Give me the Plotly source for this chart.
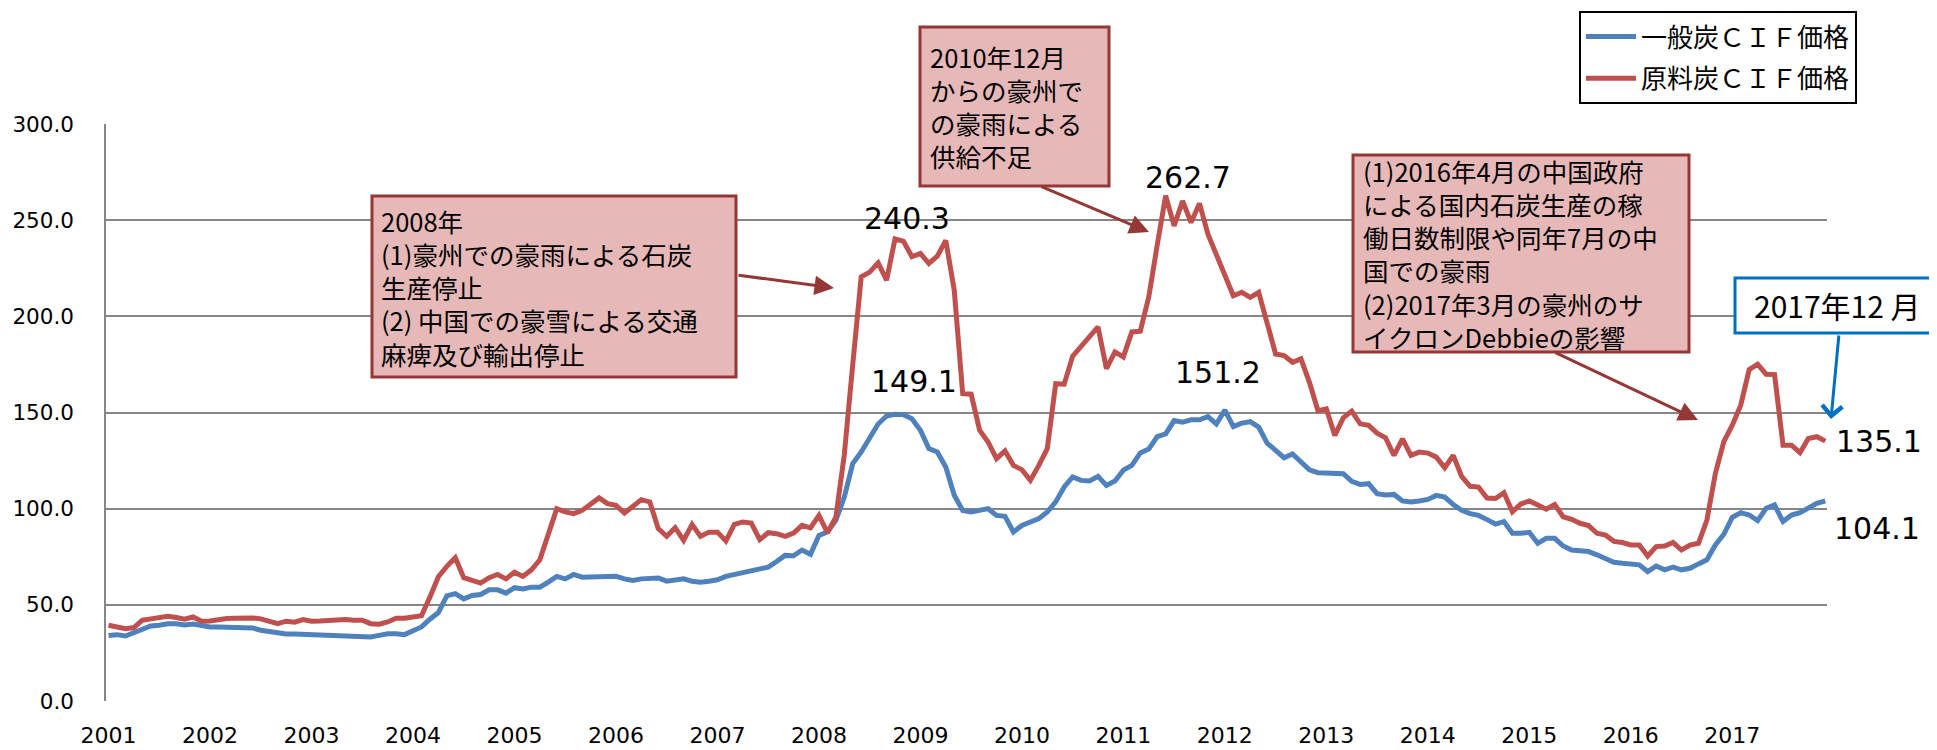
import plotly.graph_objects as go

# monthly CIF prices, 2001/01 .. 2017/12
months = [f"{y}/{m:02d}" for y in range(2001, 2018) for m in range(1, 13)]
year_ticks = [str(y) for y in range(2001, 2018)]

steam_coal = [
    34.1, 34.5, 33.8, 35.4, 37.0, 39.0, 39.4, 40.2, 40.2, 39.5, 40.0, 39.0,
    38.5, 38.5, 38.5, 38.5, 38.3, 38.0, 36.8, 36.0, 35.0, 34.8, 34.8, 34.6,
    34.8, 34.5, 34.0, 33.8, 34.1, 34.0, 33.3, 33.3, 34.1, 35.0, 35.0, 34.5,
    36.5, 38.5, 42.5, 46.0, 54.7, 55.8, 53.1, 54.9, 55.4, 57.8, 57.8, 56.1,
    58.9, 58.3, 59.2, 59.2, 61.8, 64.8, 63.5, 65.8, 64.4, 64.4, 64.8, 64.9,
    64.8, 63.5, 62.7, 63.5, 64.0, 64.0, 62.3, 62.7, 63.5, 62.3, 61.8, 62.3,
    63.0, 64.8, 65.8, 66.5, 67.4, 68.6, 69.6, 72.5, 75.7, 75.5, 78.5, 76.3,
    86.1, 87.9, 93.9, 106.0, 123.4, 129.5, 136.4, 144.0, 148.2, 149.1, 148.9, 146.8,
    140.8, 131.2, 129.5, 121.7, 107.0, 99.1, 98.3, 99.1, 100.0, 96.5, 96.0, 87.9,
    91.3, 93.1, 94.8, 98.3, 103.5, 111.3, 116.5, 114.7, 114.4, 116.8, 112.1, 114.4,
    120.0, 122.5, 129.0, 131.0, 137.5, 138.9, 145.8, 145.0, 146.2, 146.2, 147.9, 144.1,
    151.2, 142.7, 144.5, 145.2, 142.4, 134.1, 129.9, 126.5, 128.5, 124.2, 120.2, 118.7,
    118.5, 118.3, 118.2, 114.2, 112.6, 113.0, 107.8, 107.1, 107.4, 104.0, 103.5, 104.0,
    104.8, 106.9, 106.0, 102.2, 99.1, 97.4, 96.5, 94.3, 92.0, 93.3, 87.2, 87.2,
    87.7, 82.0, 84.6, 84.6, 80.6, 78.5, 78.0, 77.7, 76.0, 73.7, 72.1, 71.6,
    71.1, 70.8, 67.3, 70.2, 68.2, 69.6, 68.2, 69.0, 71.3, 73.4, 81.1, 86.7,
    95.5, 97.9, 96.7, 93.8, 100.2, 101.9, 93.3, 96.7, 97.9, 100.7, 102.8, 104.1,
]

coking_coal = [
    39.4, 38.5, 37.6, 38.2, 42.0, 42.7, 43.2, 44.0, 43.4, 42.5, 43.7, 41.5,
    41.6, 42.3, 42.9, 43.0, 43.2, 43.2, 42.7, 41.6, 40.2, 41.5, 41.0, 42.3,
    41.5, 41.6, 42.0, 42.1, 42.4, 42.0, 42.0, 40.2, 39.9, 41.1, 43.0, 43.0,
    43.7, 44.3, 54.0, 64.6, 70.0, 74.5, 64.1, 63.0, 61.3, 64.1, 65.8, 63.5,
    67.0, 64.8, 68.2, 73.4, 87.0, 100.0, 98.3, 97.4, 99.1, 102.1, 105.6, 102.6,
    101.7, 97.7, 100.9, 104.7, 103.5, 89.6, 85.6, 90.1, 83.5, 91.8, 85.6, 87.8,
    87.8, 83.2, 91.8, 93.1, 92.5, 83.9, 87.5, 87.0, 85.6, 87.3, 91.3, 90.0,
    96.5, 87.5, 95.5, 128.0, 175.0, 220.5, 223.0, 227.8, 218.8, 240.3, 239.0, 231.0,
    232.7, 227.5, 231.3, 239.5, 213.6, 159.8, 159.5, 140.8, 134.7, 126.0, 130.0, 122.5,
    120.3, 114.7, 122.5, 131.2, 165.0, 164.7, 179.3, 184.1, 189.3, 194.5, 172.8, 181.5,
    178.9, 191.9, 192.3, 210.0, 237.0, 262.7, 247.0, 260.0, 248.8, 258.7, 242.7, 231.5,
    221.1, 210.7, 212.5, 209.9, 212.5, 196.9, 180.4, 179.6, 176.1, 177.9, 165.7, 151.0,
    151.9, 138.1, 147.2, 150.7, 144.1, 143.3, 139.3, 136.9, 127.7, 136.3, 127.7, 129.4,
    128.9, 126.8, 121.3, 127.7, 116.8, 111.6, 111.2, 105.5, 105.3, 108.3, 98.4, 102.4,
    104.0, 101.9, 99.7, 102.2, 95.8, 94.5, 92.4, 91.2, 87.2, 86.3, 83.0, 82.4,
    81.1, 81.1, 75.4, 80.3, 80.6, 82.4, 78.5, 81.1, 82.0, 94.1, 118.3, 134.8,
    143.4, 153.8, 172.3, 175.1, 169.9, 169.7, 133.0, 133.0, 129.1, 136.5, 137.4, 135.1,
]

notes = [
    ["2008年", "(1)豪州での豪雨による石炭", "生産停止", "(2) 中国での豪雪による交通", "麻痺及び輸出停止"],
    ["2010年12月", "からの豪州で", "の豪雨による", "供給不足"],
    ["(1)2016年4月の中国政府", "による国内石炭生産の稼", "働日数制限や同年7月の中",
     "国での豪雨", "(2)2017年3月の豪州のサ", "イクロンDebbieの影響"],
]
latest_label = "2017年12 月"

# the page puts the figure 8px in from the top-left corner
OFF = 8
W, H = 1937 - OFF, 750 - OFF
L, R, T, B = 106 - OFF, 110, 124 - OFF, 49
PW, PH = W - L - R, H - T - B

BLUE = "#4F81BD"
RED = "#C0504D"
DARK_RED = "#953735"
CJK = "Noto Sans CJK JP"
NUM = "DejaVu Sans"


def px(x, y):
    # page pixel position -> paper coords
    return (x - OFF - L) / PW, (H - B - (y - OFF)) / PH


fig = go.Figure()
fig.add_trace(go.Scatter(x=months, y=steam_coal, mode="lines", name="一般炭ＣＩＦ価格",
                         line=dict(color=BLUE, width=5), legendgroup="a"))
fig.add_trace(go.Scatter(x=months, y=coking_coal, mode="lines", name="原料炭ＣＩＦ価格",
                         line=dict(color=RED, width=5), legendgroup="b"))

shapes = []
annotations = []

# callout boxes (pixel rect, text left x, text middle y)
boxes = [(372, 196, 736, 377), (920, 27, 1109, 186), (1353, 155, 1689, 352)]
text_pos = [(379, 287), (928, 106), (1361, 253)]
for (x0, y0, x1, y1), lines, (tx, ty) in zip(boxes, notes, text_pos):
    a, b = px(x0, y1)
    c, d = px(x1, y0)
    shapes.append(dict(type="rect", xref="paper", yref="paper", x0=a, y0=b, x1=c, y1=d,
                       line=dict(color=DARK_RED, width=3), fillcolor="#E6B9B8", layer="above"))
    ax_, ay_ = px(tx, ty)
    annotations.append(dict(xref="paper", yref="paper", x=ax_, y=ay_, text="<br>".join(lines),
                            showarrow=False, xanchor="left", yanchor="middle", align="left",
                            font=dict(family=CJK, size=25.5, color="black")))

# latest-month box (blue)
a, b = px(1735, 333)
c, d = px(1980, 278)
shapes.append(dict(type="rect", xref="paper", yref="paper", x0=a, y0=b, x1=c, y1=d,
                   line=dict(color="#0070C0", width=3), fillcolor="white", layer="above"))
ax_, ay_ = px(1752, 305)
annotations.append(dict(xref="paper", yref="paper", x=ax_, y=ay_, text=latest_label, showarrow=False,
                        xanchor="left", yanchor="middle", font=dict(family=CJK, size=30, color="black")))

# arrows: (tail, tip, colour, head)
arrows = [((737, 275), (834, 288), DARK_RED, 2),
          ((1040, 186), (1149, 232), DARK_RED, 2),
          ((1554, 352), (1698, 420), DARK_RED, 2),
          ((1839, 334), (1831, 419), "#0070C0", 4)]
for (sx, sy), (ex, ey), col, head in arrows:
    x, y = px(ex, ey)
    annotations.append(dict(xref="paper", yref="paper", x=x, y=y, ax=sx - ex, ay=sy - ey,
                            text="", showarrow=True, arrowhead=head, arrowsize=1.3,
                            arrowwidth=3, arrowcolor=col, standoff=0))

# value labels
labels = [(coking_coal, 93, 12, 20, "center"), (steam_coal, 93, 19, 33, "center"),
          (coking_coal, 125, 22, 18, "center"), (steam_coal, 132, -7, 38, "center"),
          (coking_coal, 203, 9, 0, "left"), (steam_coal, 203, 7, -28, "left")]
for series, i, dx, dy, anchor in labels:
    annotations.append(dict(xref="x", yref="y", x=months[i], y=series[i], text=f"{series[i]:.1f}",
                            showarrow=False, xanchor=anchor, yanchor="middle", xshift=dx, yshift=dy,
                            font=dict(family=NUM, size=30, color="black")))

fig.update_layout(
    width=W, height=H,
    margin=dict(l=L, r=R, t=T, b=B, autoexpand=False),
    paper_bgcolor="white", plot_bgcolor="white",
    shapes=shapes, annotations=annotations,
    showlegend=True,
    legend=dict(x=px(1579, 0)[0], y=px(0, 11)[1], xanchor="left", yanchor="top",
                bordercolor="black", borderwidth=2, bgcolor="white",
                font=dict(family=CJK, size=26, color="black"),
                tracegroupgap=5, itemwidth=50, traceorder="grouped"),
    xaxis=dict(type="category", range=[-0.3, 203.2], tickmode="array",
               tickvals=months[::12], ticktext=year_ticks, showgrid=False, ticks="",
               showline=False, zeroline=False, ticklabelstandoff=19, automargin=False,
               tickfont=dict(family=NUM, size=22, color="black")),
    yaxis=dict(range=[0, 300], dtick=50, tickformat=".1f", showgrid=True,
               gridcolor="#868686", gridwidth=1.5, showline=True, linecolor="#868686",
               linewidth=1.5, ticks="", zeroline=False, ticklabelstandoff=26, automargin=False,
               tickfont=dict(family=NUM, size=21.5, color="black")),
)

fig.write_html("out.html")
